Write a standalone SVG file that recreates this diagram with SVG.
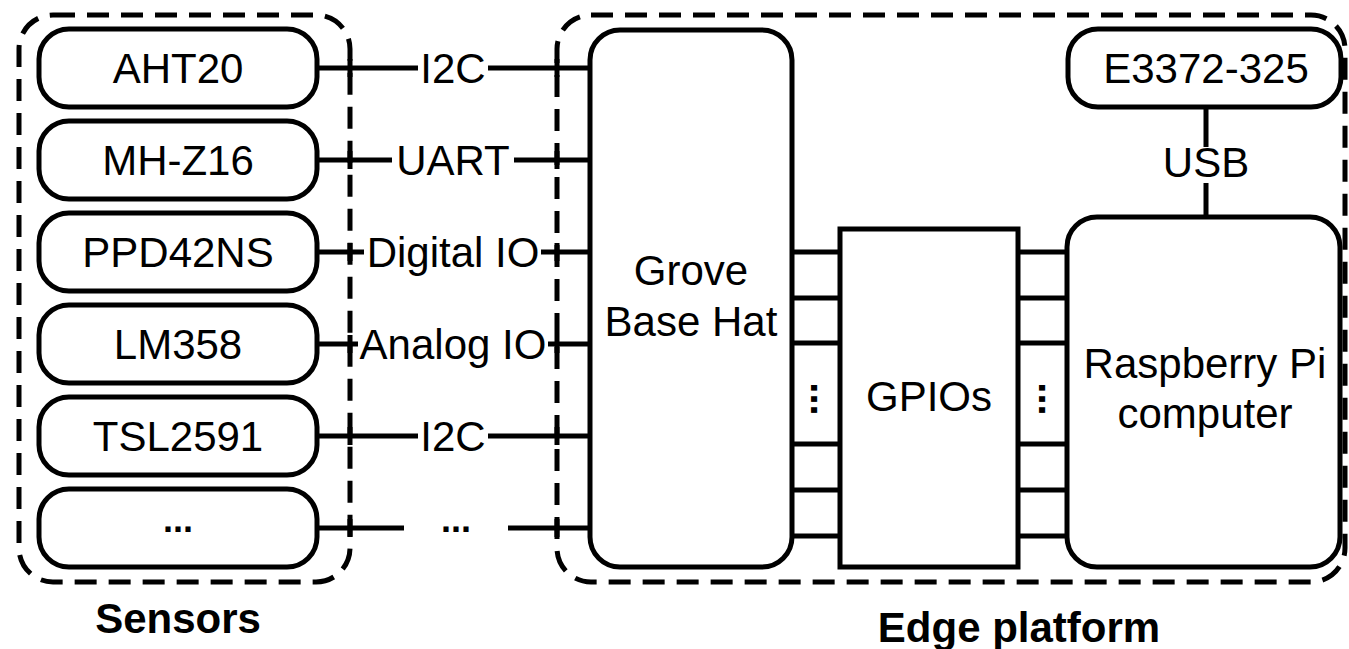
<svg xmlns="http://www.w3.org/2000/svg" width="1349" height="649" viewBox="0 0 1349 649">
<style>
.box{fill:#fff;stroke:#000;stroke-width:5}
.grp{fill:none;stroke:#000;stroke-width:5;stroke-dasharray:22 12}
.ln{stroke:#000;stroke-width:5;fill:none}
.t{font-family:"Liberation Sans",Arial,sans-serif;font-size:42px;fill:#000;text-anchor:middle}
.b{font-family:"Liberation Sans",Arial,sans-serif;font-size:42px;font-weight:bold;fill:#000;text-anchor:middle}
.d{font-family:"Liberation Sans",Arial,sans-serif;font-size:36px;font-weight:bold;fill:#000;text-anchor:middle}
.v{font-family:"Liberation Sans",Arial,sans-serif;font-size:40px;font-weight:bold;fill:#000;text-anchor:middle}
</style>
<rect width="1349" height="649" fill="#fff"/>
<g id="sensors-group">
<rect class="grp" x="19" y="15" width="331" height="567" rx="34"/>
<text class="b" x="178" y="633">Sensors</text>
</g>
<g id="edge-group">
<rect class="grp" x="557" y="15" width="788" height="567" rx="34"/>
<text class="b" x="1019" y="642">Edge platform</text>
</g>
<g id="connectors">
<path class="ln" d="M317 68H418M488 68H590"/>
<path class="ln" d="M317 160H392M514 160H590"/>
<path class="ln" d="M317 252H364M541 252H590"/>
<path class="ln" d="M317 344H358M548 344H590"/>
<path class="ln" d="M317 436H418M488 436H590"/>
<path class="ln" d="M317 528H404M508 528H590"/>
<path class="ln" d="M350 59V77M557 59V77M350 151V169M557 151V169M350 243V261M557 243V261M350 335V353M557 335V353M350 427V445M557 427V445M350 519V537M557 519V537"/>
<text class="t" x="453" y="83">I2C</text>
<text class="t" x="453" y="175">UART</text>
<text class="t" x="453" y="267">Digital IO</text>
<text class="t" x="453" y="359">Analog IO</text>
<text class="t" x="453" y="451">I2C</text>
<text class="d" x="456" y="532">...</text>
<path class="ln" d="M792 252H840M792 298H840M792 343H840M792 444H840M792 490H840M792 536H840"/>
<path class="ln" d="M1018 252H1067M1018 298H1067M1018 343H1067M1018 444H1067M1018 490H1067M1018 536H1067"/>
<text class="v" transform="translate(814 399) rotate(90)" x="0" y="3">...</text>
<text class="v" transform="translate(1042 399) rotate(90)" x="0" y="3">...</text>
<path class="ln" d="M1206 107V147M1206 183V217"/>
<text class="t" x="1206" y="177">USB</text>
</g>
<g id="aht20"><rect class="box" x="39" y="29" width="278" height="78" rx="30"/><text class="t" x="178" y="83">AHT20</text></g>
<g id="mhz16"><rect class="box" x="39" y="121" width="278" height="78" rx="30"/><text class="t" x="178" y="175">MH-Z16</text></g>
<g id="ppd42ns"><rect class="box" x="39" y="213" width="278" height="78" rx="30"/><text class="t" x="178" y="267">PPD42NS</text></g>
<g id="lm358"><rect class="box" x="39" y="305" width="278" height="78" rx="30"/><text class="t" x="178" y="359">LM358</text></g>
<g id="tsl2591"><rect class="box" x="39" y="397" width="278" height="78" rx="30"/><text class="t" x="178" y="451">TSL2591</text></g>
<g id="more-sensors"><rect class="box" x="39" y="489" width="278" height="78" rx="30"/><text class="d" x="178" y="532">...</text></g>
<g id="grove"><rect class="box" x="590" y="30" width="202" height="537" rx="30"/><text class="t" x="691" y="285">Grove</text><text class="t" x="691" y="336">Base Hat</text></g>
<g id="gpios"><rect class="box" x="840" y="229" width="178" height="338"/><text class="t" x="929" y="411">GPIOs</text></g>
<g id="rpi"><rect class="box" x="1067" y="217" width="273" height="350" rx="30"/><text class="t" x="1205" y="378">Raspberry Pi</text><text class="t" x="1205" y="428">computer</text></g>
<g id="e3372"><rect class="box" x="1068" y="29" width="273" height="78" rx="30"/><text class="t" x="1206" y="83">E3372-325</text></g>
</svg>
